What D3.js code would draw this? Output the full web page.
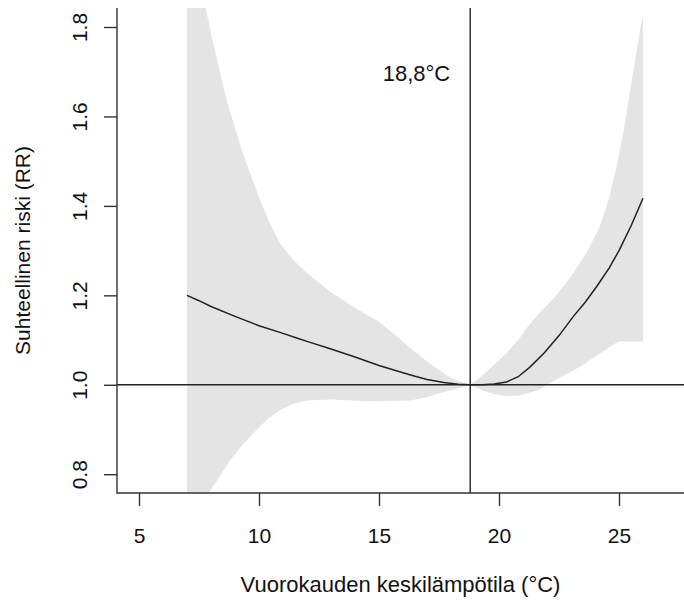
<!DOCTYPE html>
<html>
<head>
<meta charset="utf-8">
<script src="https://cdnjs.cloudflare.com/ajax/libs/d3/7.8.5/d3.min.js"></script>
<style>
  body { margin: 0; background: #fff; }
  svg text { font-family: "Liberation Sans", Arial, sans-serif; fill: #111; }
</style>
</head>
<body>
<div id="chart"></div>
<script>
// Relative risk curve (temperature -> RR)
const temps = [7, 7.5, 8, 9, 10, 11, 11.6, 12, 13, 14, 15, 16, 16.5, 17, 17.7, 18.3, 18.8,
    19.3, 19.8, 20.3, 20.8, 21.3, 21.9, 22.5, 23.1, 23.6, 24.1, 24.6, 25.0, 25.5, 26];
const rr = [1.200, 1.188, 1.175, 1.153, 1.132, 1.115, 1.104, 1.097, 1.080, 1.062, 1.043, 1.027, 1.019, 1.012, 1.005, 1.001, 1.000,
    1.000, 1.002, 1.006, 1.018, 1.040, 1.072, 1.110, 1.153, 1.185, 1.222, 1.262, 1.300, 1.355, 1.417];

// Upper confidence limit
const upperTemps = [7, 7.5, 7.75, 8.03, 8.65, 9.28, 10.04, 10.5, 10.9, 11.4, 12, 13, 14, 15, 15.7, 16.4, 17.1, 17.8, 18.3, 18.8,
    19.3, 19.8, 20.3, 20.8, 21.2, 21.67, 22.4, 23.1, 23.7, 24.2, 24.6, 24.9, 25.2, 25.4, 25.74, 25.95, 26];
const upperRR = [2.0, 1.9, 1.85, 1.778, 1.637, 1.525, 1.413, 1.355, 1.315, 1.28, 1.25, 1.207, 1.172, 1.141, 1.11, 1.078, 1.048, 1.022, 1.008, 1.0,
    1.02, 1.045, 1.07, 1.10, 1.13, 1.16, 1.20, 1.25, 1.30, 1.354, 1.42, 1.488, 1.57, 1.637, 1.749, 1.816, 1.825];

// Lower confidence limit
const lowerTemps = [7, 7.5, 7.9, 8.3, 8.8, 9.3, 9.9, 10.4, 10.9, 11.4, 12, 13, 14.5, 16.3, 17, 17.5, 18.2, 18.8,
    19.3, 19.8, 20.3, 20.8, 21.2, 21.67, 22.5, 23.4, 24.2, 24.97, 26];
const lowerRR = [0.68, 0.72, 0.758, 0.79, 0.832, 0.865, 0.899, 0.925, 0.944, 0.957, 0.965, 0.967, 0.963, 0.965, 0.972, 0.981, 0.99, 1.0,
    0.988, 0.979, 0.975, 0.976, 0.981, 0.989, 1.015, 1.041, 1.07, 1.097, 1.097];

const xTicks = [5, 10, 15, 20, 25];
const yTicks = [0.8, 1.0, 1.2, 1.4, 1.6, 1.8];
const yTickLabels = ["0.8", "1.0", "1.2", "1.4", "1.6", "1.8"];

const refTemp = 18.8;
const refLabel = "18,8°C";
const xTitle = "Vuorokauden keskilämpötila (°C)";
const yTitle = "Suhteellinen riski (RR)";

const width = 684, height = 605;
const plotLeft = 117, plotRight = 684, plotTop = 8, plotBottom = 493;

const svg = d3.select("#chart").append("svg")
    .attr("width", width)
    .attr("height", height);

const x = d3.scaleLinear().domain([4.083, 27.708]).range([plotLeft, plotRight]);
const y = d3.scaleLinear().domain([0.758, 1.8425]).range([plotBottom, plotTop]);

svg.append("clipPath").attr("id", "plotClip")
    .append("rect")
    .attr("x", plotLeft).attr("y", plotTop)
    .attr("width", plotRight - plotLeft).attr("height", plotBottom - plotTop);

const plot = svg.append("g").attr("clip-path", "url(#plotClip)");

// Confidence band as a polygon: upper edge forward, lower edge back
const bandPts = upperTemps.map((t, i) => [t, upperRR[i]])
    .concat(lowerTemps.map((t, i) => [t, lowerRR[i]]).reverse());

plot.append("path")
    .attr("d", d3.line().x(d => x(d[0])).y(d => y(d[1]))(bandPts) + "Z")
    .attr("fill", "#e4e4e4")
    .attr("stroke", "none");

// Reference lines
plot.append("line")
    .attr("x1", plotLeft).attr("x2", plotRight)
    .attr("y1", y(1)).attr("y2", y(1))
    .attr("stroke", "#222").attr("stroke-width", 1.4);

plot.append("line")
    .attr("x1", x(refTemp)).attr("x2", x(refTemp))
    .attr("y1", plotTop).attr("y2", plotBottom)
    .attr("stroke", "#222").attr("stroke-width", 1.4);

// RR curve
plot.append("path")
    .datum(temps.map((t, i) => [t, rr[i]]))
    .attr("d", d3.line().x(d => x(d[0])).y(d => y(d[1])))
    .attr("fill", "none")
    .attr("stroke", "#222")
    .attr("stroke-width", 1.5);

// L-shaped box
svg.append("path")
    .attr("d", `M${plotLeft},${plotTop}V${plotBottom}H${plotRight}`)
    .attr("fill", "none")
    .attr("stroke", "#333")
    .attr("stroke-width", 1.4);

// x axis
const xAxis = svg.append("g")
    .attr("transform", `translate(0,${plotBottom})`)
    .call(d3.axisBottom(x).tickValues(xTicks).tickSize(13).tickFormat(d3.format("d")));
xAxis.select(".domain").remove();
xAxis.selectAll("line").attr("stroke", "#333").attr("stroke-width", 1.4);
xAxis.selectAll("text")
    .attr("y", 50).attr("dy", 0)
    .style("font-size", "21px");

// y axis with rotated labels
const yAxis = svg.append("g")
    .attr("transform", `translate(${plotLeft},0)`)
    .call(d3.axisLeft(y).tickValues(yTicks).tickSize(13).tickFormat((d, i) => yTickLabels[i]));
yAxis.select(".domain").remove();
yAxis.selectAll("line").attr("stroke", "#333").attr("stroke-width", 1.4);
yAxis.selectAll("text")
    .attr("x", 0).attr("y", 0).attr("dy", 0)
    .attr("text-anchor", "middle")
    .attr("transform", "translate(-30,0) rotate(-90)")
    .style("font-size", "21px");

// titles
svg.append("text")
    .attr("x", (plotLeft + plotRight) / 2)
    .attr("y", 592)
    .attr("text-anchor", "middle")
    .style("font-size", "22px")
    .text(xTitle);

svg.append("text")
    .attr("transform", `translate(30,${(plotTop + plotBottom) / 2}) rotate(-90)`)
    .attr("text-anchor", "middle")
    .style("font-size", "21px")
    .text(yTitle);

// reference temperature label
svg.append("text")
    .attr("x", x(refTemp) - 20)
    .attr("y", y(1.7) + 9)
    .attr("text-anchor", "end")
    .style("font-size", "22px")
    .text(refLabel);
</script>
</body>
</html>
